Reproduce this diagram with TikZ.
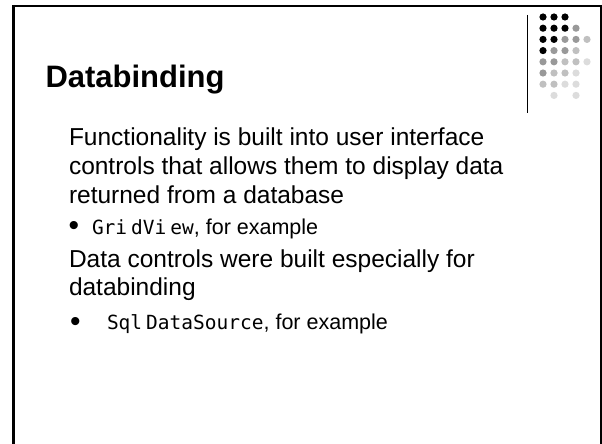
\documentclass[tikz,border=0pt]{standalone}
\usepackage{fontspec}
\setmainfont{Liberation Sans}
\newfontfamily\codefont{DejaVu Sans Mono}

\definecolor{dotK}{HTML}{000000}
\definecolor{dotG}{HTML}{999999}
\definecolor{dotL}{HTML}{C0C0C0}
\definecolor{dotV}{HTML}{DCDCDC}

\tikzset{
  txt/.style={anchor=base west, inner sep=0pt, outer sep=0pt},
  titletext/.style={txt, font=\fontsize{31}{36}\selectfont\bfseries},
  bodytext/.style={txt, font=\fontsize{24.5}{29}\selectfont},
  subtext/.style={txt, font=\fontsize{21.5}{26}\selectfont},
  bulletmark/.style={anchor=center, inner sep=0pt, font=\fontsize{30}{30}\selectfont},
}
\newcommand{\gapk}{\kern4pt}
\newcommand{\code}[1]{{\codefont\fontsize{19.5}{22}\selectfont #1}}

\begin{document}
\begin{tikzpicture}[x=1pt,y=-1pt]
  \useasboundingbox (0,0) rectangle (602,444);
  \fill[white] (0,0) rectangle (602,444);

  % slide frame, open at the bottom
  \draw[line width=3pt] (13.5,5) -- (13.5,444);
  \draw[line width=2pt] (12,5.7) -- (602,5.7);
  \draw[line width=2pt] (601,5) -- (601,444);

  % decorative separator and dot matrix
  \draw[line width=1.2pt] (527.5,15) -- (527.5,113);
  \foreach \row/\cols in {
      1/{1/dotK,2/dotK,3/dotK},
      2/{1/dotK,2/dotK,3/dotK,4/dotG},
      3/{1/dotK,2/dotK,3/dotG,4/dotG,5/dotL},
      4/{1/dotK,2/dotG,3/dotG,4/dotL},
      5/{1/dotG,2/dotG,3/dotL,4/dotL,5/dotV},
      6/{1/dotG,2/dotL,3/dotL,4/dotV},
      7/{1/dotL,2/dotL,3/dotV,4/dotV},
      8/{2/dotV,4/dotV}} {
    \foreach \c/\col in \cols {
      \fill[\col] ({532+11*\c},{5.8+11.2*\row}) circle (3.6);
    }
  }

  % title
  \node[titletext] (title) at (45.5,87.5) {Databinding};

  % body text
  \node[bodytext] (l1) at (69,145) {Functionality is built into user interface};
  \node[bodytext] (l2) at (69,174) {controls that allows them to display data};
  \node[bodytext] (l3) at (69,203) {returned from a database};
  \node[bulletmark] (b1) at (74,228) {•};
  \node[subtext] (s1) at (92,234) {\code{Gri\gapk dVi\gapk ew}, for example};
  \node[bodytext] (l4) at (69,267) {Data controls were built especially for};
  \node[bodytext] (l5) at (69,295) {databinding};
  \node[bulletmark] (b2) at (75.5,324) {•};
  \node[subtext] (s2) at (107,329) {\code{Sql\gapk DataSource}, for example};
\end{tikzpicture}
\end{document}
